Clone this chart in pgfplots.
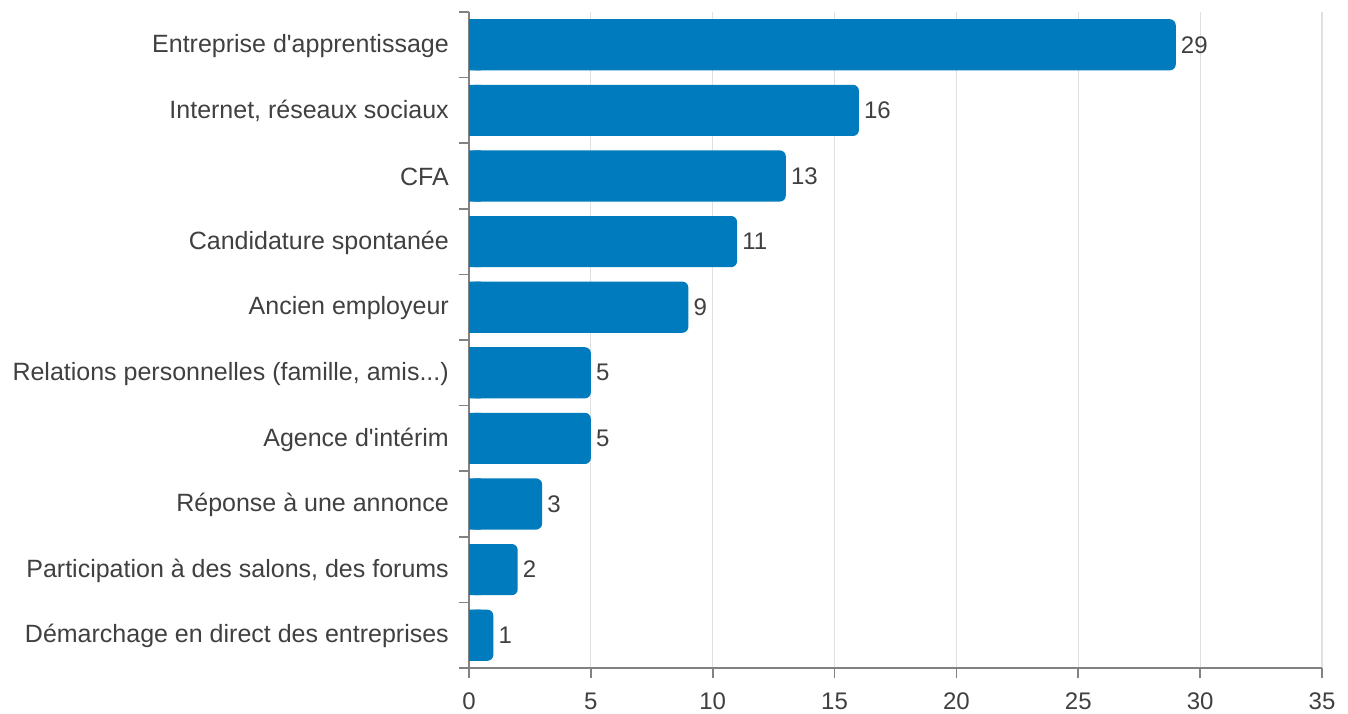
\documentclass[border=0pt]{standalone}
\usepackage{pgfplots}
\pgfplotsset{compat=1.18}
\usepackage{fontspec}
\setmainfont{Liberation Sans}

\definecolor{barblue}{RGB}{0,123,190}
\definecolor{txt}{RGB}{64,64,64}
\definecolor{axisgray}{RGB}{130,130,130}
\definecolor{gridgray}{RGB}{224,224,224}

\pgfdeclarelayer{axis background}
\pgfdeclarelayer{axis grid}
\pgfdeclarelayer{axis ticks}
\pgfdeclarelayer{axis lines}
\pgfdeclarelayer{axis tick labels}
\pgfdeclarelayer{axis descriptions}
\pgfdeclarelayer{axis foreground}
\pgfplotsset{
  layers/grid below/.define layer set={
    axis background,axis grid,main,axis ticks,axis lines,
    axis tick labels,axis descriptions,axis foreground
  }{},
}

\begin{document}
\begin{tikzpicture}
\begin{axis}[
  set layers=grid below,
  scale only axis,
  width=853pt, height=656pt,
  xbar, bar width=0.78, /pgf/bar shift=0pt,
  xmin=0, xmax=35,
  ymin=-0.5, ymax=9.5, y dir=reverse,
  axis x line*=bottom, axis y line*=left,
  axis line style={axisgray, line width=1.6pt, -},
  xtick={0,5,...,35},
  ytick={0,...,9},
  yticklabels={
    {Entreprise d\textquotesingle apprentissage},
    {Internet, réseaux sociaux},
    {CFA},
    {Candidature spontanée},
    {Ancien employeur},
    {Relations personnelles (famille, amis.{}.{}.)},
    {Agence d\textquotesingle intérim},
    {Réponse à une annonce},
    {Participation à des salons, des forums},
    {Démarchage en direct des entreprises}},
  minor ytick={-0.5,0.5,...,9.5},
  tick align=outside,
  major tick length=10pt, minor tick length=10pt,
  every tick/.style={axisgray, line width=1.6pt},
  major y tick style={draw=none},
  xmajorgrids,
  major grid style={gridgray, line width=1.2pt},
  tick label style={font=\fontsize{24}{28}\selectfont, text=txt},
  /pgf/number format/assume math mode=true,
  xticklabel style={inner sep=0pt, anchor=north, yshift=-15pt},
  yticklabel style={font=\fontsize{25}{29}\selectfont, inner sep=0pt,
    anchor=east, xshift=-10pt, yshift=-1pt},
  clip=false,
]
\addplot[fill=barblue, draw=none, rounded corners=6pt,
  nodes near coords,
  nodes near coords style={font=\fontsize{24}{28}\selectfont, text=txt,
    anchor=west, inner sep=0pt, xshift=5pt}]
  coordinates {(29,0) (16,1) (13,2) (11,3) (9,4) (5,5) (5,6) (3,7) (2,8) (1,9)};
% square off the left ends of the bars
\addplot[fill=barblue, draw=none]
  coordinates {(0.5,0) (0.5,1) (0.5,2) (0.5,3) (0.5,4) (0.5,5) (0.5,6) (0.5,7) (0.5,8) (0.5,9)};
\end{axis}
\path[use as bounding box] (-469pt,-45pt) rectangle (879pt,668pt);
\end{tikzpicture}
\end{document}
